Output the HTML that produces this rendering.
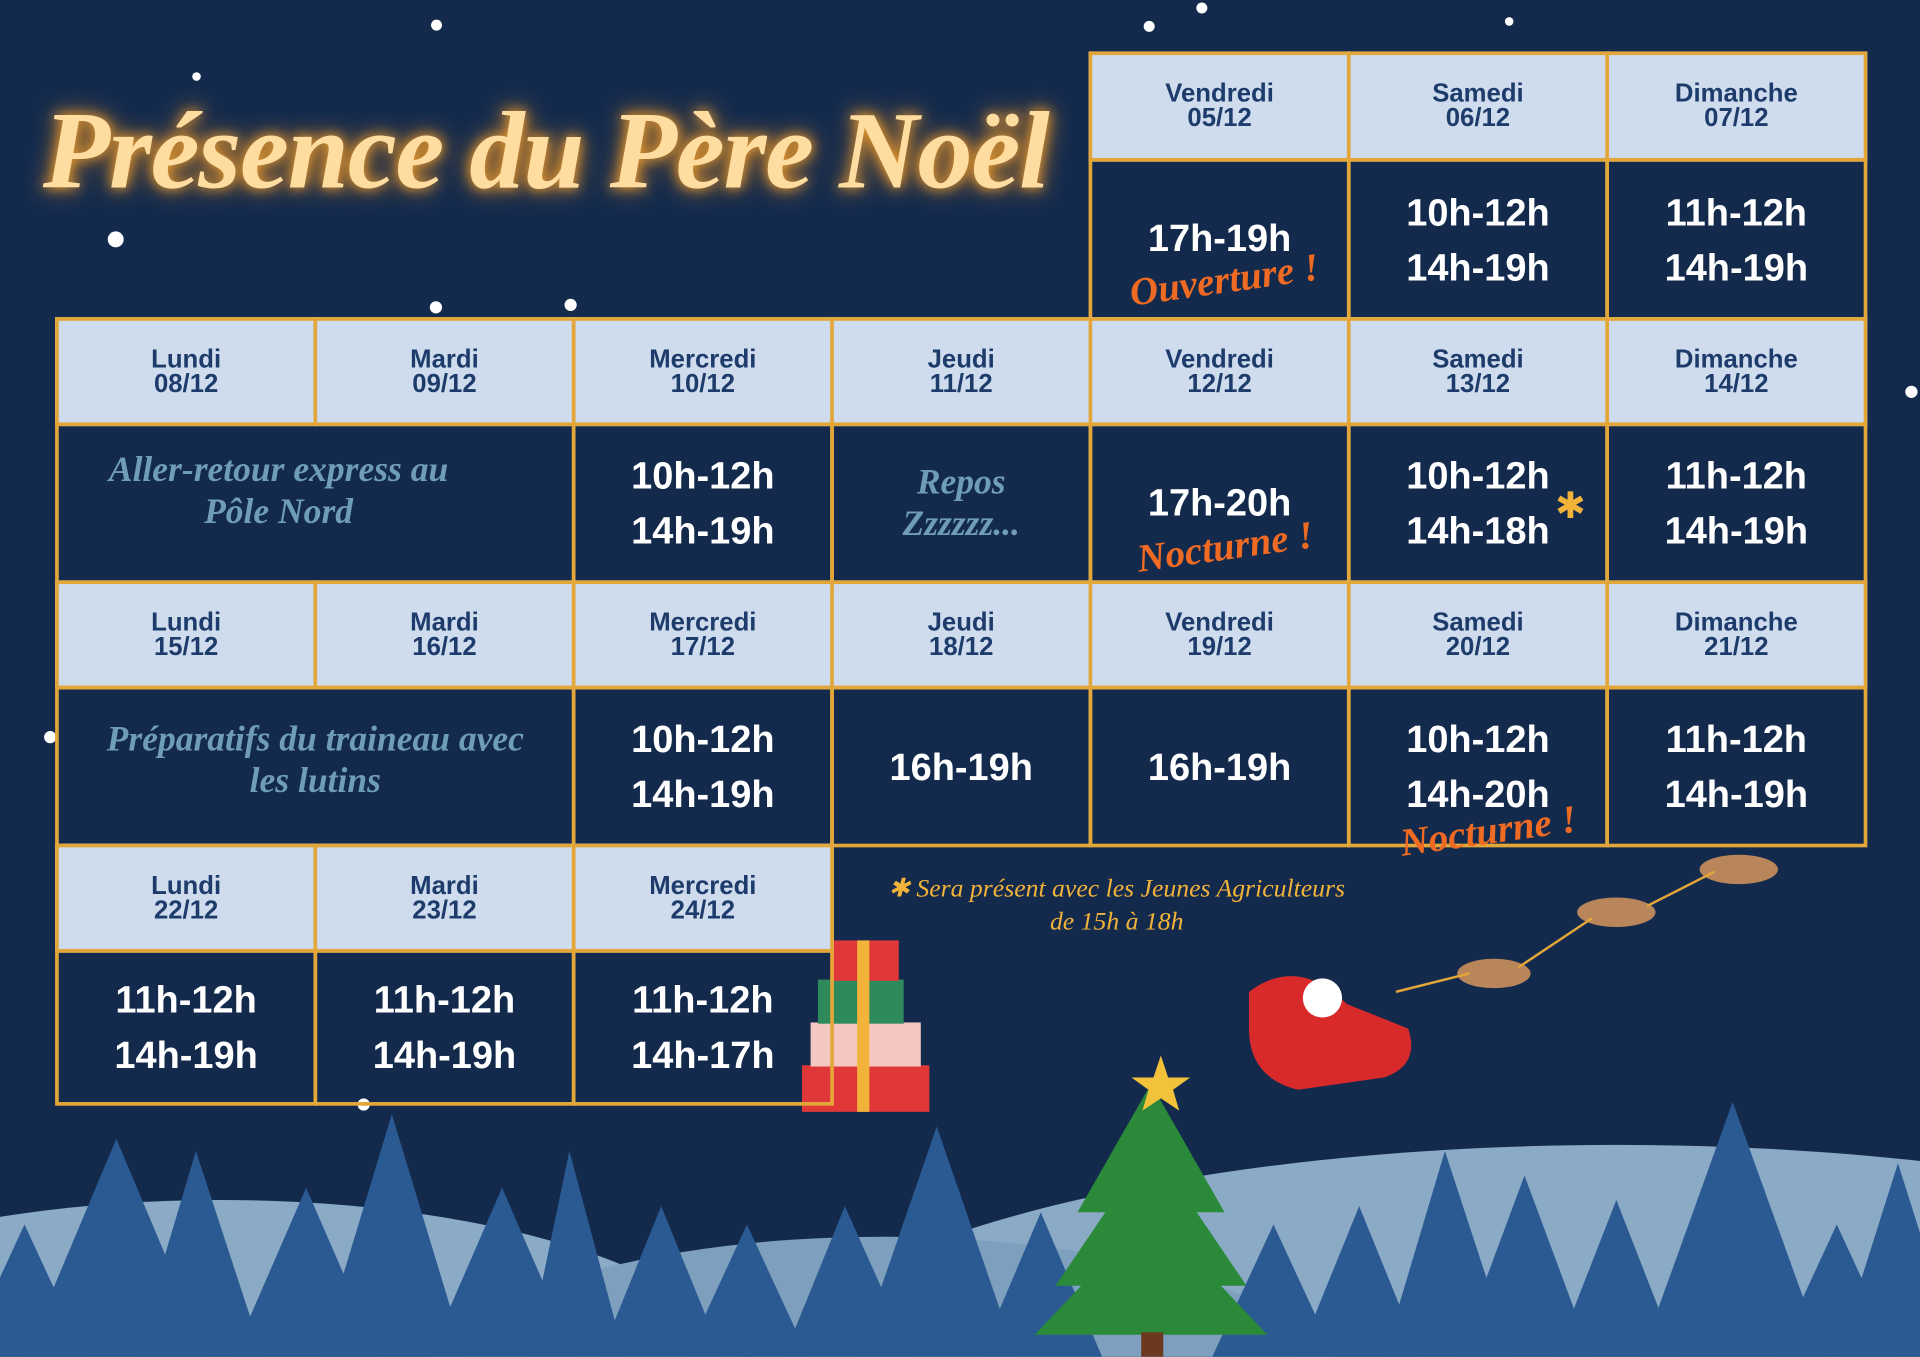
<!DOCTYPE html>
<html><head><meta charset="utf-8"><style>
html,body{margin:0;padding:0;background:#132a4d;overflow:hidden;width:1920px;height:1357px}
#w{position:absolute;left:0;top:0;width:1568px;height:1108px;transform:scale(1.22449);transform-origin:0 0;background:#132a4d;overflow:hidden;font-family:"Liberation Sans",sans-serif}
.c{position:absolute;box-sizing:border-box;border:3px solid #e3a739;display:flex;align-items:center;justify-content:center;text-align:center}
.h{background:#cfdcee;color:#1e3c6b;font-weight:bold;font-size:21px;line-height:20px}
.b{color:#fff;font-weight:bold;font-size:31px;line-height:45px}
.s{font-family:"Liberation Serif",serif;font-style:italic;color:#6f9cb8;font-size:29px;line-height:34px;font-weight:bold}
.o{position:absolute;font-family:"Liberation Serif",serif;font-style:italic;font-weight:bold;color:#ef6a22;font-size:32px;transform:rotate(-8deg);white-space:nowrap}
.d{position:absolute;background:#fff;border-radius:50%}
#t{position:absolute;left:35px;top:72px;font-family:"Liberation Serif",serif;font-style:italic;font-weight:bold;font-size:90px;color:#ffdca0;text-shadow:0 0 10px #f0a030,0 0 20px #e08a20;white-space:nowrap;letter-spacing:-1px}
</style></head><body><div id="w">
<svg style="position:absolute;left:0;top:0" width="1568" height="1108">
<ellipse cx="180" cy="1130" rx="430" ry="150" fill="#8aaac6"/>
<ellipse cx="1320" cy="1150" rx="720" ry="215" fill="#8aaac6"/>
<ellipse cx="720" cy="1140" rx="380" ry="130" fill="#7e9fbd"/>
<g fill="#2b5a92">
<polygon points="20,1108 95,930 170,1108"/><polygon points="110,1108 160,940 215,1108"/><polygon points="190,1108 250,970 310,1108"/>
<polygon points="260,1108 320,910 380,1108"/><polygon points="350,1108 410,970 470,1108"/><polygon points="430,1108 465,940 510,1108"/>
<polygon points="490,1108 540,985 590,1108"/><polygon points="560,1108 610,1000 660,1108"/><polygon points="640,1108 690,985 745,1108"/>
<polygon points="700,1108 765,920 830,1108"/><polygon points="800,1108 850,990 900,1108"/><polygon points="990,1108 1040,1000 1090,1108"/>
<polygon points="1060,1108 1110,985 1160,1108"/><polygon points="1130,1108 1180,940 1235,1108"/><polygon points="1190,1108 1245,960 1300,1108"/>
<polygon points="1270,1108 1320,980 1370,1108"/><polygon points="1340,1108 1415,900 1490,1108"/><polygon points="1450,1108 1500,1000 1550,1108"/>
<polygon points="-30,1108 20,1000 70,1108"/><polygon points="1500,1108 1550,950 1600,1108"/>
</g>
<g fill="#2a8a3a"><polygon points="940,885 880,990 1000,990"/><polygon points="940,935 862,1050 1018,1050"/><polygon points="940,990 845,1090 1035,1090"/></g>
<rect x="932" y="1088" width="18" height="20" fill="#6b3a1e"/>
<polygon points="948,862 954,880 972,880 958,890 963,907 948,897 933,907 938,890 924,880 942,880" fill="#f2c23a"/>
<g><rect x="655" y="870" width="104" height="38" fill="#e03838"/><rect x="662" y="835" width="90" height="36" fill="#f4c8c0"/><rect x="668" y="800" width="70" height="36" fill="#2e8a5a"/><rect x="678" y="768" width="56" height="33" fill="#e03838"/><rect x="700" y="768" width="10" height="140" fill="#f2b33a"/></g>
<path d="M1020,810 Q1060,780 1100,820 L1150,840 Q1160,870 1130,880 L1060,890 Q1020,880 1020,840Z" fill="#d82a2a"/>
<circle cx="1080" cy="815" r="16" fill="#fff"/>
<g fill="#b8865a"><ellipse cx="1220" cy="795" rx="30" ry="12"/><ellipse cx="1320" cy="745" rx="32" ry="12"/><ellipse cx="1420" cy="710" rx="32" ry="12"/></g>
<path d="M1140,810 L1200,795 M1240,790 L1300,750 M1345,740 L1400,712" stroke="#e3a739" stroke-width="2"/>
</svg>
<div id="t">Présence du Père Noël</div>
<div class="d" style="left:352px;top:16px;width:9px;height:9px"></div>
<div class="d" style="left:934px;top:17px;width:9px;height:9px"></div>
<div class="d" style="left:977px;top:2px;width:9px;height:9px"></div>
<div class="d" style="left:1229px;top:14px;width:7px;height:7px"></div>
<div class="d" style="left:157px;top:59px;width:7px;height:7px"></div>
<div class="d" style="left:88px;top:189px;width:13px;height:13px"></div>
<div class="d" style="left:351px;top:246px;width:10px;height:10px"></div>
<div class="d" style="left:461px;top:244px;width:10px;height:10px"></div>
<div class="d" style="left:1556px;top:315px;width:10px;height:10px"></div>
<div class="d" style="left:36px;top:597px;width:10px;height:10px"></div>
<div class="d" style="left:292px;top:897px;width:10px;height:10px"></div>

<div class="c h" style="left:889px;top:42px;width:214px;height:90px">Vendredi<br>05/12</div>
<div class="c h" style="left:1100px;top:42px;width:214px;height:90px">Samedi<br>06/12</div>
<div class="c h" style="left:1311px;top:42px;width:214px;height:90px">Dimanche<br>07/12</div>
<div class="c b" style="left:889px;top:129px;width:214px;height:133px;align-items:flex-start;padding-top:40px">17h-19h</div>
<div class="o" style="left:922px;top:210px">Ouverture !</div>
<div class="c b" style="left:1100px;top:129px;width:214px;height:133px">10h-12h<br>14h-19h</div>
<div class="c b" style="left:1311px;top:129px;width:214px;height:133px">11h-12h<br>14h-19h</div>

<div class="c h" style="left:45px;top:259px;width:214px;height:89px">Lundi<br>08/12</div>
<div class="c h" style="left:256px;top:259px;width:214px;height:89px">Mardi<br>09/12</div>
<div class="c h" style="left:467px;top:259px;width:214px;height:89px">Mercredi<br>10/12</div>
<div class="c h" style="left:678px;top:259px;width:214px;height:89px">Jeudi<br>11/12</div>
<div class="c h" style="left:889px;top:259px;width:214px;height:89px">Vendredi<br>12/12</div>
<div class="c h" style="left:1100px;top:259px;width:214px;height:89px">Samedi<br>13/12</div>
<div class="c h" style="left:1311px;top:259px;width:214px;height:89px">Dimanche<br>14/12</div>
<div class="c s" style="left:45px;top:345px;width:425px;height:132px;padding-right:60px;padding-bottom:20px">Aller-retour express au<br>Pôle Nord</div>
<div class="c b" style="left:467px;top:345px;width:214px;height:132px">10h-12h<br>14h-19h</div>
<div class="c s" style="left:678px;top:345px;width:214px;height:132px">Repos<br>Zzzzzz...</div>
<div class="c b" style="left:889px;top:345px;width:214px;height:132px;align-items:flex-start;padding-top:40px">17h-20h</div>
<div class="o" style="left:928px;top:428px">Nocturne !</div>
<div class="c b" style="left:1100px;top:345px;width:214px;height:132px">10h-12h<br>14h-18h</div>
<div class="c b" style="left:1311px;top:345px;width:214px;height:132px">11h-12h<br>14h-19h</div>

<div class="c h" style="left:45px;top:474px;width:214px;height:89px">Lundi<br>15/12</div>
<div class="c h" style="left:256px;top:474px;width:214px;height:89px">Mardi<br>16/12</div>
<div class="c h" style="left:467px;top:474px;width:214px;height:89px">Mercredi<br>17/12</div>
<div class="c h" style="left:678px;top:474px;width:214px;height:89px">Jeudi<br>18/12</div>
<div class="c h" style="left:889px;top:474px;width:214px;height:89px">Vendredi<br>19/12</div>
<div class="c h" style="left:1100px;top:474px;width:214px;height:89px">Samedi<br>20/12</div>
<div class="c h" style="left:1311px;top:474px;width:214px;height:89px">Dimanche<br>21/12</div>
<div class="c s" style="left:45px;top:560px;width:425px;height:132px;padding-bottom:10px;white-space:nowrap">Préparatifs du traineau avec<br>les lutins</div>
<div class="c b" style="left:467px;top:560px;width:214px;height:132px">10h-12h<br>14h-19h</div>
<div class="c b" style="left:678px;top:560px;width:214px;height:132px">16h-19h</div>
<div class="c b" style="left:889px;top:560px;width:214px;height:132px">16h-19h</div>
<div class="c b" style="left:1100px;top:560px;width:214px;height:132px">10h-12h<br>14h-20h</div>
<div class="o" style="left:1143px;top:660px">Nocturne !</div>
<div class="c b" style="left:1311px;top:560px;width:214px;height:132px">11h-12h<br>14h-19h</div>

<div class="c h" style="left:45px;top:689px;width:214px;height:89px">Lundi<br>22/12</div>
<div class="c h" style="left:256px;top:689px;width:214px;height:89px">Mardi<br>23/12</div>
<div class="c h" style="left:467px;top:689px;width:214px;height:89px">Mercredi<br>24/12</div>
<div class="c b" style="left:45px;top:775px;width:214px;height:128px">11h-12h<br>14h-19h</div>
<div class="c b" style="left:256px;top:775px;width:214px;height:128px">11h-12h<br>14h-19h</div>
<div class="c b" style="left:467px;top:775px;width:214px;height:128px">11h-12h<br>14h-17h</div>
<div style="position:absolute;left:692px;top:712px;width:440px;text-align:center;font-family:'Liberation Serif',serif;font-style:italic;color:#f2b33a;font-size:21px;line-height:27px;white-space:nowrap">✱ Sera présent avec les Jeunes Agriculteurs<br>de 15h à 18h</div>
<div style="position:absolute;left:1270px;top:396px;color:#f2b33a;font-size:30px">✱</div>
</div></body></html>
